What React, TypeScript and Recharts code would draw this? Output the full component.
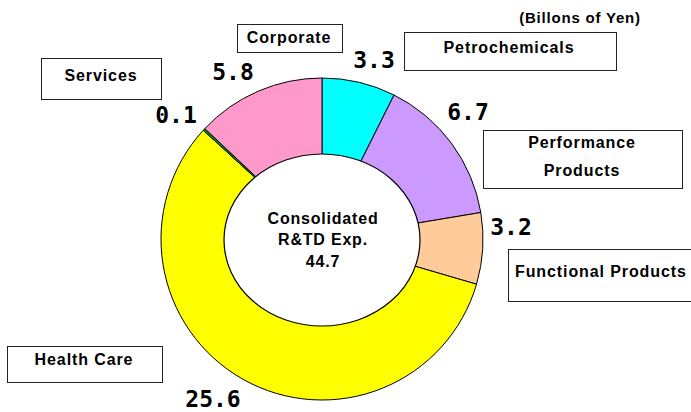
import React from "react";
import { PieChart, Pie, Cell } from "recharts";

const segments = ["Petrochemicals", "Performance Products", "Functional Products", "Health Care", "Services", "Corporate"];
const values = [3.3, 6.7, 3.2, 25.6, 0.1, 5.8];
const colors = ["#00FFFF", "#CC99FF", "#FFCC99", "#FFFF00", "#00A000", "#FF99CC"];
const totalLabel = ["Consolidated", "R&TD Exp.", "44.7"];
const unitLabel = "(Billons of Yen)";

const data = segments.map((name, i) => ({ name, value: values[i] }));

const W = 691;
const H = 412;
const CX = 322;
const CY = 239;
const R = 161;

// value label offsets relative to pie center
const valueOffsets = [
  [52, -179],
  [146, -127],
  [189, -12],
  [-109, 160],
  [-146, -124],
  [-89, -167],
];

// name boxes: x, y, w, h, text x, line centers y
const boxes = [
  { x: 404, y: 32, w: 212, h: 38, tx: 509, lines: [47], anchor: "middle" },
  { x: 483, y: 130, w: 199, h: 58, tx: 582, lines: [142, 170], anchor: "middle" },
  { x: 508, y: 249, w: 200, h: 52, tx: 515, lines: [271], anchor: "start" },
  { x: 7, y: 346, w: 155, h: 36, tx: 84, lines: [359], anchor: "middle" },
  { x: 41, y: 58, w: 120, h: 41, tx: 101, lines: [75], anchor: "middle" },
  { x: 237, y: 24, w: 105, h: 28, tx: 289, lines: [37], anchor: "middle" },
];
const boxLines = [
  ["Petrochemicals"],
  ["Performance", "Products"],
  ["Functional Products"],
  ["Health Care"],
  ["Services"],
  ["Corporate"],
];

const labelFont = "Liberation Sans, Arial, sans-serif";

const renderValue = (props: any) => {
  const { cx, cy, index, value } = props;
  const [dx, dy] = valueOffsets[index];
  return (
    <text
      x={cx + dx}
      y={cy + dy}
      textAnchor="middle"
      dominantBaseline="central"
      fontFamily="DejaVu Sans Mono, monospace"
      fontWeight="bold"
      fontSize={23}
      fill="#000"
    >
      {Number(value).toFixed(1)}
    </text>
  );
};

export default function App() {
  return (
    <div style={{ position: "absolute", left: 0, top: 0, width: W, height: H, background: "#fff", overflow: "hidden" }}>
      <PieChart width={W} height={H} margin={{ top: 0, right: 0, bottom: 0, left: 0 }}>
        <Pie
          data={data}
          dataKey="value"
          nameKey="name"
          cx={CX}
          cy={CY}
          innerRadius={0}
          outerRadius={R}
          startAngle={90}
          endAngle={-270}
          stroke="#000"
          strokeWidth={1}
          label={renderValue}
          labelLine={false}
          isAnimationActive={false}
        >
          {data.map((d, i) => (
            <Cell key={d.name} fill={colors[i]} />
          ))}
        </Pie>
      </PieChart>
      <svg width={W} height={H} style={{ position: "absolute", left: 0, top: 0, pointerEvents: "none" }}>
        <ellipse cx={CX} cy={CY + 1} rx={98} ry={86} fill="#fff" stroke="#000" strokeWidth={1.2} />
        {totalLabel.map((t, i) => (
          <text
            key={t}
            x={CX + 1}
            y={218 + i * 21.5}
            textAnchor="middle"
            dominantBaseline="central"
            fontFamily={labelFont}
            fontWeight="bold"
            fontSize={16}
            letterSpacing={0.8}
            fill="#000"
          >
            {t}
          </text>
        ))}
        <text
          x={580}
          y={17}
          textAnchor="middle"
          dominantBaseline="central"
          fontFamily={labelFont}
          fontWeight="bold"
          fontSize={15}
          letterSpacing={0.8}
          fill="#000"
        >
          {unitLabel}
        </text>
        {boxes.map((b, i) => (
          <g key={i}>
            <rect x={b.x + 0.5} y={b.y + 0.5} width={b.w} height={b.h} fill="#fff" stroke="#222" strokeWidth={1} />
            {boxLines[i].map((line, j) => (
              <text
                key={line}
                x={b.tx}
                y={b.lines[j]}
                textAnchor={b.anchor as any}
                dominantBaseline="central"
                fontFamily={labelFont}
                fontWeight="bold"
                fontSize={16}
                letterSpacing={0.9}
                fill="#000"
              >
                {line}
              </text>
            ))}
          </g>
        ))}
      </svg>
    </div>
  );
}
